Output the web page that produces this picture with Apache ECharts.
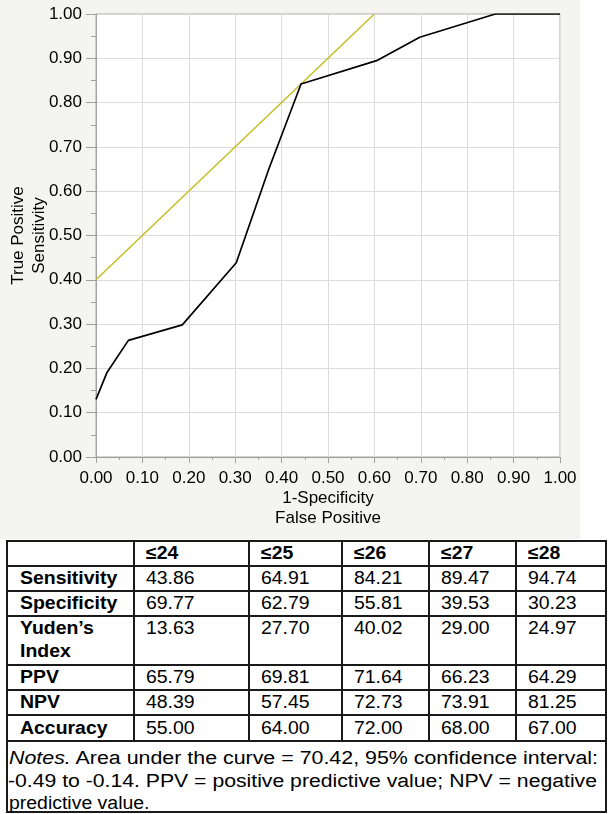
<!DOCTYPE html>
<html><head><meta charset="utf-8">
<script src="https://cdn.jsdelivr.net/npm/echarts@6/dist/echarts.min.js"></script>
<style>
html,body{margin:0;padding:0;background:#fff;width:612px;height:814px;overflow:hidden;font-family:'Liberation Sans',Arial,sans-serif;}
#chart{position:absolute;left:0;top:0;width:580px;height:539px;background:#f4f4f0;}
.hl{position:absolute;height:2px;background:#1a1a1a;}
.vl{position:absolute;width:2px;background:#1a1a1a;}
.t{position:absolute;font-size:18px;white-space:nowrap;transform-origin:0 0;transform:scaleX(1.08);color:#000;line-height:23px;}
.b{font-weight:bold;}
</style></head><body>
<div id="chart"></div>
<div id="table"></div>
<script>
// ROC curve points (1-specificity, sensitivity)
const rocFPR = [0, 0.0233, 0.0698, 0.1860, 0.3023, 0.3721, 0.4419, 0.6047, 0.6977, 0.8605, 1];
const rocTPR = [0.13, 0.19, 0.2632, 0.2982, 0.4386, 0.6491, 0.8421, 0.8947, 0.9474, 1, 1];
// Yellow reference (tangent) line
const refFPR = [0, 0.5998];
const refTPR = [0.4002, 1];

// Table content
const thresholds = ['≤24', '≤25', '≤26', '≤27', '≤28'];
const rowLabels = ['Sensitivity', 'Specificity', 'Yuden’s<br>Index', 'PPV', 'NPV', 'Accuracy'];
const sensitivity = ['43.86', '64.91', '84.21', '89.47', '94.74'];
const specificity = ['69.77', '62.79', '55.81', '39.53', '30.23'];
const yuden = ['13.63', '27.70', '40.02', '29.00', '24.97'];
const ppv = ['65.79', '69.81', '71.64', '66.23', '64.29'];
const npv = ['48.39', '57.45', '72.73', '73.91', '81.25'];
const accuracy = ['55.00', '64.00', '72.00', '68.00', '67.00'];
const notesLines = [
  '<i>Notes.</i> Area under the curve = 70.42, 95% confidence interval:',
  '-0.49 to -0.14. PPV = positive predictive value; NPV = negative',
  'predictive value.'
];

const chart = echarts.init(document.getElementById('chart'), null, {renderer: 'canvas'});
const fmt = v => v.toFixed(2);
const FONT = 'Liberation Sans, Arial, sans-serif';
const axisCommon = {
  type: 'value', min: 0, max: 1, interval: 0.1,
  axisLine: {show: true, lineStyle: {color: '#a0a0a0', width: 1}},
  splitLine: {show: true, lineStyle: {color: '#dcdcdc', width: 1}},
  minorSplitLine: {show: false},
  nameLocation: 'middle',
  nameMoveOverlap: false
};
chart.setOption({
  animation: false,
  grid: {left: 96, top: 14, width: 464, height: 443, containLabel: false, outerBoundsMode: 'none',
         show: true, backgroundColor: '#fff', borderColor: '#a8a8a8', borderWidth: 1},
  xAxis: Object.assign({}, axisCommon, {
    name: '1-Specificity\nFalse Positive', nameGap: 31,
    nameTextStyle: {fontSize: 17, color: '#000', fontFamily: FONT, lineHeight: 20},
    axisTick: {show: true, length: 6, lineStyle: {color: '#a0a0a0'}},
    minorTick: {show: true, splitNumber: 2, length: 3, lineStyle: {color: '#a0a0a0'}},
    axisLabel: {fontSize: 17, color: '#000', margin: 13, formatter: fmt, fontFamily: FONT}
  }),
  yAxis: Object.assign({}, axisCommon, {
    name: 'True Positive\nSensitivity', nameGap: 46,
    nameTextStyle: {fontSize: 17, color: '#000', fontFamily: FONT, lineHeight: 21},
    axisTick: {show: true, length: 10, lineStyle: {color: '#a0a0a0'}},
    minorTick: {show: true, splitNumber: 2, length: 5, lineStyle: {color: '#a0a0a0'}},
    axisLabel: {fontSize: 17, color: '#000', margin: 14, formatter: fmt, fontFamily: FONT}
  }),
  series: [
    {type: 'line', name: 'Reference', data: refFPR.map((x, i) => [x, refTPR[i]]), symbol: 'none',
     lineStyle: {color: '#c6bf2a', width: 1.6}, z: 2},
    {type: 'line', name: 'ROC', data: rocFPR.map((x, i) => [x, rocTPR[i]]), symbol: 'none',
     lineStyle: {color: '#000', width: 1.7}, z: 3}
  ]
});

// Table
const tbl = document.getElementById('table');
const hLines = [541, 566, 591, 616, 665, 690, 715, 741, 812];
const vInner = [134, 249, 342, 429, 516];
const tLeft = 7, tRight = 606;
function add(cls, style, html) {
  const d = document.createElement('div');
  d.className = cls;
  Object.assign(d.style, style);
  if (html !== undefined) d.innerHTML = html;
  tbl.appendChild(d);
  return d;
}
hLines.forEach(y => add('hl', {left: (tLeft - 1) + 'px', top: (y - 1) + 'px', width: (tRight - tLeft + 2) + 'px'}));
[tLeft, tRight].forEach(x => add('vl', {left: (x - 1) + 'px', top: (hLines[0] - 1) + 'px', height: (hLines[hLines.length - 1] - hLines[0] + 2) + 'px'}));
vInner.forEach(x => add('vl', {left: (x - 1) + 'px', top: (hLines[0] - 1) + 'px', height: (hLines[7] - hLines[0] + 1) + 'px'}));

const BASE = 17.75;
const rowBaselines = [560, 585, 610, 635, 684, 709, 735];
const rowsData = [sensitivity, specificity, yuden, ppv, npv, accuracy];
thresholds.forEach((th, j) => add('t b', {left: (vInner[j] + 12) + 'px', top: (rowBaselines[0] - BASE) + 'px'}, th));
rowLabels.forEach((lab, i) => {
  add('t b', {left: '20px', top: (rowBaselines[i + 1] - BASE) + 'px'}, lab);
  rowsData[i].forEach((v, j) => add('t', {left: (vInner[j] + 12) + 'px', top: (rowBaselines[i + 1] - BASE) + 'px'}, v));
});
const notesBase = [765, 788, 810];
const notesLeft = [9, 8, 9];
const notesWidth = [589, 589, 0];
notesLines.forEach((ln, i) => {
  const d = add('t', {left: notesLeft[i] + 'px', top: (notesBase[i] - BASE) + 'px', transform: 'none'}, ln);
  const w = d.getBoundingClientRect().width;
  const sx = notesWidth[i] ? notesWidth[i] / w : 1.08;
  d.style.transform = 'scaleX(' + sx + ')';
});
</script>
</body></html>
